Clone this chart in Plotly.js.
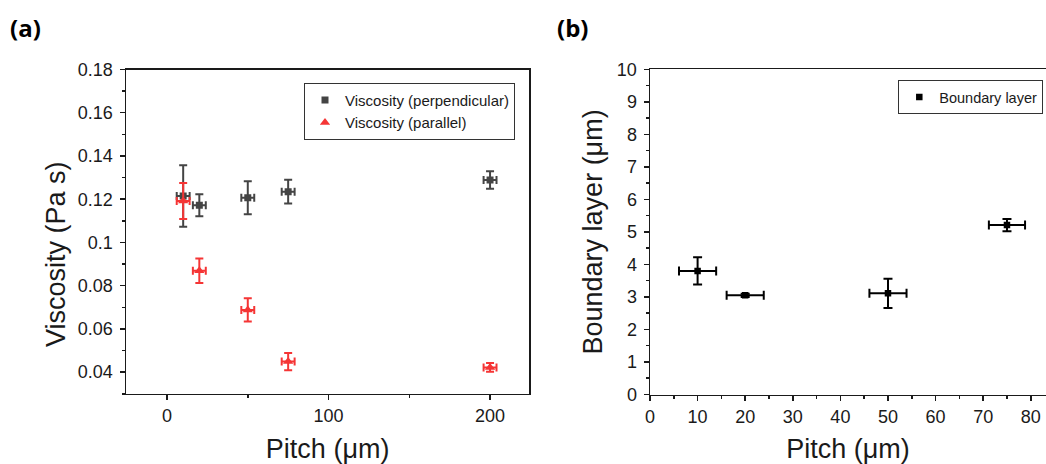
<!DOCTYPE html>
<html><head><meta charset="utf-8">
<script src="https://cdn.plot.ly/plotly-3.0.1.min.js"></script>
<style>html,body{margin:0;padding:0;background:#fff;}#chart{width:1046px;height:464px;}</style>
</head><body><div id="chart"></div>
<script>
// ---- data ----
const pitchA = [10, 20, 50, 75, 200];
const pitchErrA = [4, 4, 4, 4, 4];
const viscPerp = [0.1215, 0.1172, 0.1207, 0.1235, 0.1289];
const viscPerpErr = [0.0142, 0.0051, 0.0076, 0.0055, 0.0040];
const viscPar = [0.1192, 0.0869, 0.0688, 0.0449, 0.0422];
const viscParErr = [0.0083, 0.0057, 0.0054, 0.0040, 0.0020];

const pitchB = [10, 20, 50, 75];
const pitchErrB = [3.9, 3.9, 3.9, 3.8];
const boundary = [3.80, 3.05, 3.11, 5.21];
const boundaryErr = [0.42, 0.05, 0.45, 0.19];

const xTickValsA = [0, 100, 200];
const xTickTextA = ['0', '100', '200'];
const yTickValsA = [0.04, 0.06, 0.08, 0.1, 0.12, 0.14, 0.16, 0.18];
const yTickTextA = ['0.04', '0.06', '0.08', '0.1', '0.12', '0.14', '0.16', '0.18'];
const xTickValsB = [0, 10, 20, 30, 40, 50, 60, 70, 80];
const yTickValsB = [0, 1, 2, 3, 4, 5, 6, 7, 8, 9, 10];

const seriesNames = ['Viscosity (perpendicular)', 'Viscosity (parallel)', 'Boundary layer'];
const panelLabels = ['(a)', '(b)'];
const titles = {ax: 'Pitch (μm)', ay: 'Viscosity (Pa s)', bx: 'Pitch (μm)', by: 'Boundary layer (μm)'};

// ---- styling ----
const FONT = '"Liberation Sans", Arial, sans-serif';
const GRAY = '#444444', RED = '#f53535', BLACK = '#000000';
const W = 1046, H = 464;

function errs(arr, color, w) {
  return {type: 'data', array: arr, visible: true, color: color, thickness: 2, width: w};
}

const traces = [
  {x: pitchA, y: viscPerp, xaxis: 'x', yaxis: 'y', type: 'scatter', mode: 'markers', name: seriesNames[0],
   marker: {symbol: 'square', size: 7, color: GRAY}, error_y: errs(viscPerpErr, GRAY, 4), error_x: errs(pitchErrA, GRAY, 4),
   legend: 'legend'},
  {x: pitchA, y: viscPar, xaxis: 'x', yaxis: 'y', type: 'scatter', mode: 'markers', name: seriesNames[1],
   marker: {symbol: 'triangle-up', size: 9, color: RED}, error_y: errs(viscParErr, RED, 4), error_x: errs(pitchErrA, RED, 4),
   legend: 'legend'},
  {x: pitchB, y: boundary, xaxis: 'x2', yaxis: 'y2', type: 'scatter', mode: 'markers', name: seriesNames[2],
   marker: {symbol: 'square', size: 6.5, color: BLACK}, error_y: errs(boundaryErr, BLACK, 4.5), error_x: errs(pitchErrB, BLACK, 4.5),
   legend: 'legend2'}
];

const axisCommon = {
  showline: true, linecolor: '#1a1a1a', linewidth: 1.5, ticks: 'outside', ticklen: 5, tickwidth: 1.5,
  tickcolor: '#1a1a1a', showgrid: false, zeroline: false, tickfont: {family: FONT, size: 18, color: '#1a1a1a'},
  fixedrange: true
};

const layout = {
  width: W, height: H, autosize: false,
  margin: {l: 0, r: 0, t: 0, b: 0, pad: 0},
  paper_bgcolor: '#fff', plot_bgcolor: '#fff',
  font: {family: FONT, color: '#1a1a1a'},
  showlegend: true,
  xaxis: Object.assign({}, axisCommon, {
    domain: [126 / W, 529.3 / W], range: [-25.4, 224.3], anchor: 'y', mirror: true,
    tickmode: 'array', tickvals: xTickValsA, ticktext: xTickTextA,
    minor: {dtick: 50, tick0: 0, ticks: 'outside', ticklen: 3, tickwidth: 1.5, tickcolor: '#1a1a1a'},
    title: {text: titles.ax, font: {family: FONT, size: 27, color: '#1a1a1a'}, standoff: 16}
  }),
  yaxis: Object.assign({}, axisCommon, {
    domain: [1 - 393.8 / H, 1 - 69.5 / H], range: [0.03, 0.18], anchor: 'x', mirror: true,
    tickmode: 'array', tickvals: yTickValsA, ticktext: yTickTextA, ticklabelstandoff: 3,
    minor: {dtick: 0.01, tick0: 0.03, ticks: 'outside', ticklen: 3, tickwidth: 1.5, tickcolor: '#1a1a1a'}
  }),
  xaxis2: Object.assign({}, axisCommon, {
    domain: [650 / W, 1], range: [0, 83.2], anchor: 'y2', mirror: true,
    tickmode: 'array', tickvals: xTickValsB,
    minor: {dtick: 5, tick0: 0, ticks: 'outside', ticklen: 3, tickwidth: 1.5, tickcolor: '#1a1a1a'},
    title: {text: titles.bx, font: {family: FONT, size: 27, color: '#1a1a1a'}, standoff: 16}
  }),
  yaxis2: Object.assign({}, axisCommon, {
    domain: [1 - 394.5 / H, 1 - 69.3 / H], range: [0, 10], anchor: 'x2', mirror: false,
    tickmode: 'array', tickvals: yTickValsB, ticklabelstandoff: 3,
    minor: {dtick: 0.5, tick0: 0, ticks: 'outside', ticklen: 3, tickwidth: 1.5, tickcolor: '#1a1a1a'},
    title: {text: titles.by, font: {family: FONT, size: 27, color: '#1a1a1a'}, standoff: 6}
  }),
  legend: {
    x: 304 / W, y: 1 - 82.7 / H, xanchor: 'left', yanchor: 'top', xref: 'paper', yref: 'paper',
    bgcolor: '#fff', bordercolor: '#333', borderwidth: 1, font: {family: FONT, size: 15, color: '#1a1a1a'},
    tracegroupgap: 0, itemclick: false
  },
  legend2: {
    x: 898.3 / W, y: 1 - 80 / H, xanchor: 'left', yanchor: 'top', xref: 'paper', yref: 'paper',
    bgcolor: '#fff', bordercolor: '#333', borderwidth: 1, font: {family: FONT, size: 14.5, color: '#1a1a1a'},
    itemclick: false
  },
  annotations: [
    {text: '<b>' + panelLabels[0] + '</b>', x: 25 / W, y: 1 - 28 / H, xref: 'paper', yref: 'paper',
     xanchor: 'center', yanchor: 'middle', showarrow: false, font: {family: '"Open Sans", Arial, sans-serif', size: 24, color: '#000'}},
    {text: '<b>' + panelLabels[1] + '</b>', x: 572 / W, y: 1 - 28 / H, xref: 'paper', yref: 'paper',
     xanchor: 'center', yanchor: 'middle', showarrow: false, font: {family: '"Open Sans", Arial, sans-serif', size: 24, color: '#000'}},
    {text: titles.ay, x: 56 / W, y: 1 - 254 / H, xref: 'paper', yref: 'paper', textangle: -90,
     xanchor: 'center', yanchor: 'middle', showarrow: false, font: {family: FONT, size: 27, color: '#1a1a1a'}}
  ]
};

Plotly.newPlot('chart', traces, layout, {displayModeBar: false, staticPlot: true});
</script></body></html>
